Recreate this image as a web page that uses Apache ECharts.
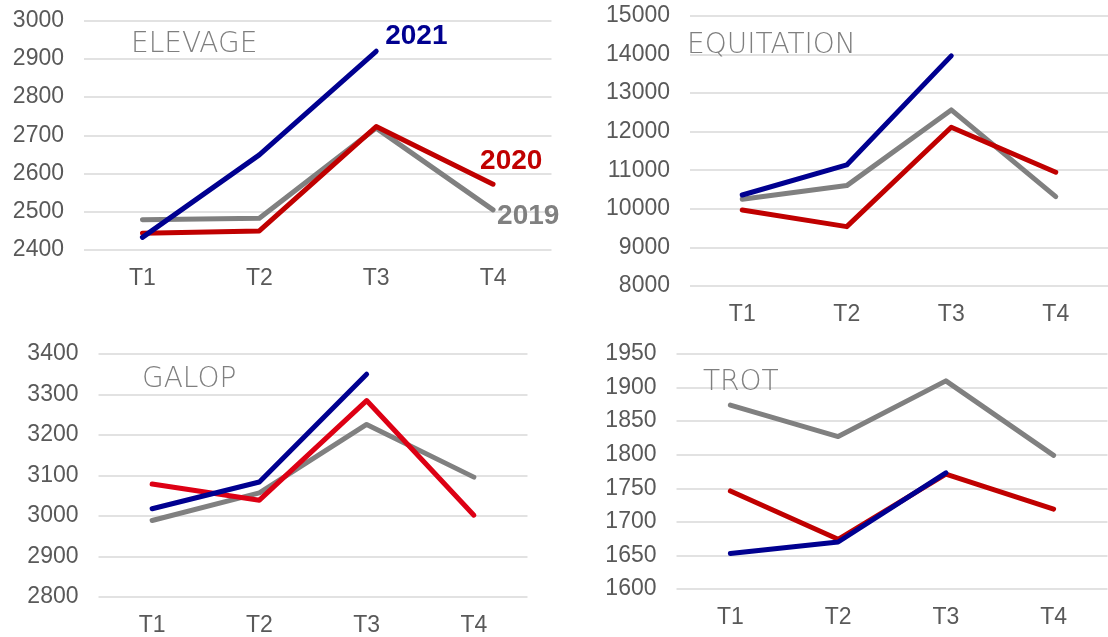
<!DOCTYPE html>
<html>
<head>
<meta charset="utf-8">
<script src="https://cdn.jsdelivr.net/npm/echarts@6/dist/echarts.min.js"></script>
<style>
html,body{margin:0;padding:0;background:#fff;}
#chart{width:1108px;height:637px;}
</style>
</head>
<body>
<div id="chart"></div>
<script>
const categories = ['T1', 'T2', 'T3', 'T4'];
const seriesNames = ['2019', '2020', '2021'];
const panelTitles = ['ELEVAGE', 'EQUITATION', 'GALOP', 'TROT'];

const elevage2019 = [2479, 2483, 2719, 2505];
const elevage2020 = [2444, 2450, 2723, 2572];
const elevage2021 = [2433, 2649, 2920];

const equitation2019 = [10246, 10600, 12560, 10314];
const equitation2020 = [9970, 9537, 12110, 10945];
const equitation2021 = [10357, 11135, 13960];

const galop2019 = [2989, 3057, 3226, 3096];
const galop2020 = [3079, 3039, 3285, 3002];
const galop2021 = [3018, 3084, 3350];

const trot2019 = [1874, 1827, 1910, 1799];
const trot2020 = [1746, 1674, 1771, 1719];
const trot2021 = [1653, 1670, 1773];

const elevageTicks = [2400, 3000, 100];
const equitationTicks = [8000, 15000, 1000];
const galopTicks = [2800, 3400, 100];
const trotTicks = [1600, 1950, 50];

const GRAY = '#808080', RED = '#C00000', BLUE = '#000090';
const LABEL_COLOR = '#595959';
const AXIS_FONT = 'Liberation Sans';

const grids = [
  {left: 84, top: 20.7, width: 467.5, height: 229.3},
  {left: 690, top: 15.7, width: 426, height: 270.3},
  {left: 98.5, top: 354, width: 429, height: 245.3},
  {left: 676.5, top: 354, width: 431, height: 235}
];
const ticks = [elevageTicks, equitationTicks, galopTicks, trotTicks];
const dataSets = [
  [elevage2019, elevage2020, elevage2021],
  [equitation2019, equitation2020, equitation2021],
  [galop2019, galop2020, galop2021],
  [trot2019, trot2020, trot2021]
];
const titlePos = [[131, 45], [687, 46], [142, 380], [703, 383]];

const xAxis = grids.map((g, i) => ({
  type: 'category', gridIndex: i, data: categories, boundaryGap: true,
  axisLine: {show: false}, axisTick: {show: false},
  axisLabel: {color: LABEL_COLOR, fontSize: 23, fontFamily: AXIS_FONT, margin: 17}
}));
const yAxis = grids.map((g, i) => ({
  type: 'value', gridIndex: i, min: ticks[i][0], max: ticks[i][1], interval: ticks[i][2],
  axisLine: {show: false}, axisTick: {show: false},
  axisLabel: {color: LABEL_COLOR, fontSize: 23, fontFamily: AXIS_FONT, margin: 20,
    formatter: v => String(v)},
  splitLine: {lineStyle: {color: '#D9D9D9', width: 1.5}}
}));

const colors = [GRAY, RED, BLUE];
const endLabelCfg = {
  '2019': {offset: [-1, 6]},
  '2020': {offset: [-18, -23]},
  '2021': {offset: [4, -15]}
};
const series = [];
dataSets.forEach((set, i) => {
  set.forEach((vals, k) => {
    let color = colors[k];
    if (i === 2 && k === 1) color = '#DD0014';
    const s = {
      name: seriesNames[k], type: 'line', xAxisIndex: i, yAxisIndex: i,
      data: vals, symbol: 'none', silent: true, animation: false,
      lineStyle: {color: color, width: 5, cap: 'round', join: 'round'},
      z: 2 + k
    };
    if (i === 0) {
      s.endLabel = {
        show: true, formatter: '{a}', position: 'right', distance: 5,
        offset: endLabelCfg[seriesNames[k]].offset,
        color: color, fontSize: 28, fontWeight: 'bold', fontFamily: AXIS_FONT
      };
    }
    series.push(s);
  });
});

const title = panelTitles.map((t, i) => ({
  text: t, left: titlePos[i][0], top: titlePos[i][1] - 17, padding: 0,
  textStyle: {color: '#7F7F7F', fontSize: 28, fontWeight: 300, fontFamily: 'DejaVu Sans', lineHeight: 34}
}));

const chart = echarts.init(document.getElementById('chart'), null, {renderer: 'canvas'});
chart.setOption({
  animation: false,
  title: title,
  grid: grids,
  xAxis: xAxis,
  yAxis: yAxis,
  series: series
});
</script>
</body>
</html>
